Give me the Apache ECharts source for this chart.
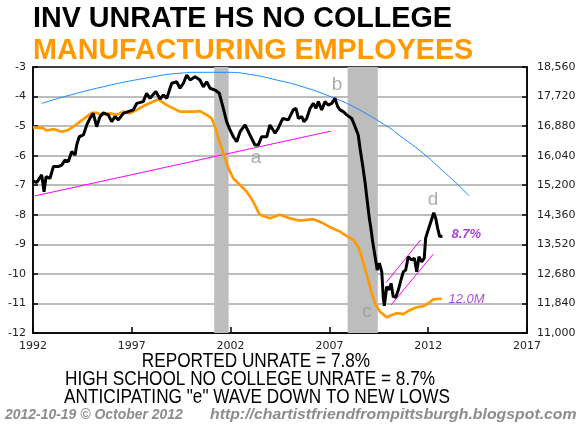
<!DOCTYPE html>
<html>
<head>
<meta charset="utf-8">
<script src="https://cdn.jsdelivr.net/npm/echarts@6/dist/echarts.min.js"></script>
<style>
html,body{margin:0;padding:0;background:#fff;}
#c{width:580px;height:426px;}
</style>
</head>
<body>
<div id="c"></div>
<script>
// ---- DATA ----
// Inverted unemployment rate, high school no college (left axis), [year, value]
const UNRATE_INV = [
[1992.0,-6.85],[1992.19,-6.91],[1992.44,-6.65],[1992.56,-7.22],[1992.66,-6.71],[1992.86,-6.77],
[1993.03,-6.37],[1993.28,-6.37],[1993.45,-6.32],[1993.62,-6.15],[1993.79,-6.2],[1993.96,-5.86],
[1994.13,-5.98],[1994.21,-5.64],[1994.34,-5.36],[1994.55,-5.30],[1994.72,-4.96],[1994.88,-4.74],
[1995.05,-4.57],[1995.22,-5.02],[1995.39,-4.68],[1995.56,-4.55],[1995.81,-4.62],[1995.98,-4.85],
[1996.15,-4.68],[1996.32,-4.79],[1996.57,-4.57],[1996.82,-4.51],[1997.08,-4.45],[1997.25,-4.23],
[1997.58,-4.17],[1997.75,-3.89],[1997.92,-4.06],[1998.22,-3.83],[1998.43,-4.08],[1998.6,-3.95],
[1998.77,-4.06],[1999.02,-3.55],[1999.27,-3.50],[1999.44,-3.72],[1999.61,-3.55],[1999.78,-3.27],
[1999.95,-3.44],[2000.2,-3.33],[2000.45,-3.44],[2000.62,-3.67],[2000.79,-3.50],[2000.96,-3.72],
[2001.21,-3.78],[2001.43,-3.89],[2001.63,-4.40],[2001.8,-4.85],[2001.97,-5.13],[2002.14,-5.36],
[2002.31,-5.53],[2002.48,-5.19],[2002.73,-4.96],[2002.98,-5.30],[2003.23,-5.64],[2003.4,-5.64],
[2003.57,-5.36],[2003.83,-5.36],[2003.99,-4.96],[2004.25,-5.24],[2004.41,-5.07],[2004.64,-4.74],
[2004.92,-4.79],[2005.17,-4.45],[2005.31,-4.40],[2005.43,-4.74],[2005.6,-4.68],[2005.71,-4.85],
[2005.85,-4.74],[2006.02,-4.40],[2006.19,-4.23],[2006.32,-4.40],[2006.44,-4.17],[2006.61,-4.45],
[2006.78,-4.17],[2006.94,-4.29],[2007.12,-4.23],[2007.28,-4.06],[2007.42,-4.34],[2007.54,-4.45],
[2007.7,-4.51],[2007.88,-4.62],[2008.13,-4.74],[2008.3,-5.02],[2008.46,-5.30],[2008.55,-5.75],
[2008.68,-6.32],[2008.8,-6.88],[2008.92,-7.56],[2009.02,-8.12],[2009.1,-8.46],[2009.19,-8.91],
[2009.31,-9.4],[2009.42,-9.87],[2009.53,-9.64],[2009.65,-9.93],[2009.73,-10.83],[2009.78,-11.08],
[2009.9,-10.43],[2010.02,-10.54],[2010.12,-10.32],[2010.23,-10.77],[2010.36,-10.79],[2010.49,-10.54],
[2010.62,-10.21],[2010.74,-9.93],[2010.86,-9.87],[2010.99,-9.42],[2011.16,-9.53],[2011.3,-9.47],
[2011.42,-9.93],[2011.53,-9.42],[2011.67,-9.59],[2011.8,-9.47],[2011.87,-8.79],[2012.0,-8.51],
[2012.14,-8.23],[2012.28,-7.93],[2012.38,-8.12],[2012.48,-8.46],[2012.58,-8.74],[2012.72,-8.72]
];
// Manufacturing employees, thousands (right axis), [year, value]
const MFG_EMP = [
[1992.0,16846],[1992.52,16821],[1992.69,16754],[1993.03,16796],[1993.45,16720],[1993.79,16771],
[1994.04,16863],[1994.38,17006],[1994.72,17149],[1994.97,17258],[1995.22,17258],[1995.48,17199],
[1995.9,17241],[1996.24,17199],[1996.57,17292],[1996.91,17241],[1997.25,17342],[1997.67,17476],
[1998.09,17577],[1998.34,17644],[1998.51,17577],[1998.77,17476],[1999.1,17384],[1999.44,17292],
[2000.11,17292],[2000.45,17308],[2000.79,17199],[2001.04,17098],[2001.21,16863],[2001.38,16536],
[2001.55,16250],[2001.72,15964],[2001.89,15679],[2002.14,15393],[2002.48,15208],[2002.82,15015],
[2003.15,14730],[2003.4,14444],[2003.49,14360],[2003.99,14259],[2004.49,14360],[2005.0,14259],
[2005.5,14192],[2006.19,14234],[2006.69,14116],[2007.03,14007],[2007.54,13881],[2007.88,13755],
[2008.21,13646],[2008.46,13453],[2008.63,13167],[2008.8,12840],[2008.97,12504],[2009.14,12126],
[2009.31,11840],[2009.56,11605],[2009.9,11445],[2010.15,11512],[2010.4,11563],[2010.74,11538],
[2011.08,11655],[2011.42,11731],[2011.75,11764],[2012.0,11840],[2012.26,11958],[2012.68,11974]
];
// Blue arc (left axis)
const ARC = [
[1992.44,-4.23],[1995.22,-3.72],[1998.43,-3.29],[1999.44,-3.21],[2000.11,-3.18],[2001.8,-3.18],
[2003.15,-3.27],[2004.33,-3.44],[2005.51,-3.64],[2007.2,-4.04],[2008.38,-4.40],[2010.07,-5.07],
[2010.4,-5.24],[2011.75,-5.92],[2012.6,-6.43],[2013.44,-6.94],[2014.07,-7.36]
];
// Magenta trend lines (left axis)
const TREND_LONG = [[1992.1,-7.36],[2007.07,-5.17]];
const CHANNEL_UP = [[2009.86,-10.30],[2011.62,-8.85]];
const CHANNEL_LOW = [[2010.12,-11.05],[2012.26,-9.33]];
// Recessions [start, end]
const RECESSIONS = [[2001.17,2001.9],[2007.92,2009.45]];
// Annotations [year, value, text]
const WAVE_LABELS = [[2003.29,-6.08,'a'],[2007.38,-3.59,'b'],[2008.9,-11.29,'c'],[2012.24,-7.49,'d']];
const END_LABELS = [[2013.15,-8.68,'8.7%'],[2013.0,-10.85,'12.0M']];
// Axis ticks
const X_TICKS = [1992,1997,2002,2007,2012,2017];
const LEFT_TICKS = [-12,-11,-10,-9,-8,-7,-6,-5,-4,-3];
const RIGHT_TICKS = [11000,11840,12680,13520,14360,15200,16040,16880,17720,18560];
// Texts
const TITLE1 = 'INV UNRATE HS NO COLLEGE';
const TITLE2 = 'MANUFACTURING EMPLOYEES';
const NOTES = ['REPORTED UNRATE = 7.8%','HIGH SCHOOL NO COLLEGE UNRATE = 8.7%','ANTICIPATING "e" WAVE DOWN TO NEW LOWS'];
const FOOT_LEFT = '2012-10-19 \u00A9 October 2012';
const FOOT_RIGHT = 'http://chartistfriendfrompittsburgh.blogspot.com';

const chart = echarts.init(document.getElementById('c'), null, {renderer:'canvas'});
const fmt = v => String(v).replace(/\B(?=(\d{3})+(?!\d))/g, ',');
const axisFont = {fontFamily:'DejaVu Sans', fontSize:11, color:'#222'};

const option = {
  animation:false,
  backgroundColor:'#fff',
  grid:{left:33,right:53,top:67,bottom:93,show:true,borderColor:'#000',borderWidth:1.5,backgroundColor:'transparent'},
  xAxis:{type:'value',min:1992,max:2017,interval:5,
    axisLine:{show:true,lineStyle:{color:'#000',width:1.5}},
    axisTick:{show:true,inside:true,length:6,lineStyle:{color:'#000',width:1.5}},
    axisLabel:Object.assign({margin:8,customValues:X_TICKS,formatter:v=>String(v)},axisFont),
    splitLine:{show:false}},
  yAxis:[
    {type:'value',min:-12,max:-3,interval:1,position:'left',
      axisLine:{show:true,lineStyle:{color:'#000',width:1.5}},
      axisTick:{show:true,inside:true,length:5,lineStyle:{color:'#000',width:1.5}},
      axisLabel:Object.assign({margin:7,customValues:LEFT_TICKS},axisFont),
      splitLine:{show:true,showMinLine:false,showMaxLine:false,lineStyle:{color:'#a6a6a6',width:1.5}}},
    {type:'value',min:11000,max:18560,position:'right',
      axisLine:{show:true,lineStyle:{color:'#000',width:1.5}},
      axisTick:{show:true,inside:true,length:5,customValues:RIGHT_TICKS,lineStyle:{color:'#000',width:1.5}},
      axisLabel:Object.assign({margin:10,customValues:RIGHT_TICKS,formatter:fmt},axisFont),
      splitLine:{show:false}}
  ],
  series:[
    {type:'line',name:'rec',data:[],yAxisIndex:0,silent:true,z:1,
      markArea:{silent:true,itemStyle:{color:'#bdbdbd'},
        data:RECESSIONS.map(r=>[{xAxis:r[0]},{xAxis:r[1]}])}},
    {type:'line',name:'arc',data:ARC,yAxisIndex:0,smooth:true,showSymbol:false,symbol:'none',z:3,
      lineStyle:{color:'#1a8cff',width:1}},
    {type:'line',name:'trend',data:TREND_LONG,yAxisIndex:0,symbol:'none',z:3,lineStyle:{color:'#ff00ff',width:1}},
    {type:'line',name:'chup',data:CHANNEL_UP,yAxisIndex:0,symbol:'none',z:3,lineStyle:{color:'#ff00ff',width:1}},
    {type:'line',name:'chlow',data:CHANNEL_LOW,yAxisIndex:0,symbol:'none',z:3,lineStyle:{color:'#ff00ff',width:1}},
    {type:'line',name:'mfg',data:MFG_EMP,yAxisIndex:1,symbol:'none',z:4,lineStyle:{color:'#ff9900',width:2.7}},
    {type:'line',name:'unrate',data:UNRATE_INV,yAxisIndex:0,symbol:'none',z:5,lineStyle:{color:'#000',width:3}},
    {type:'scatter',name:'waves',yAxisIndex:0,symbolSize:1,z:6,itemStyle:{color:'rgba(0,0,0,0)'},
      data:WAVE_LABELS.map(d=>({value:[d[0],d[1]],label:{show:true,position:'inside',formatter:d[2],
        fontFamily:'Liberation Sans',fontSize:19,color:'#999'}}))},
    {type:'scatter',name:'ends',yAxisIndex:0,symbolSize:1,z:6,itemStyle:{color:'rgba(0,0,0,0)'},
      data:[
        {value:[END_LABELS[0][0],END_LABELS[0][1]],label:{show:true,position:'right',distance:0,formatter:END_LABELS[0][2],
          fontFamily:'Liberation Sans',fontSize:13,fontWeight:'bold',fontStyle:'italic',color:'#9010cc'}},
        {value:[END_LABELS[1][0],END_LABELS[1][1]],label:{show:true,position:'right',distance:0,formatter:END_LABELS[1][2],
          fontFamily:'Liberation Sans',fontSize:13,fontStyle:'italic',color:'#9a20d0'}}
      ]}
  ],
  graphic:[
    {type:'text',x:33,y:19,scaleX:0.99,style:{text:TITLE1,font:'bold 29px "Liberation Sans"',fill:'#000',textAlign:'left',textVerticalAlign:'middle'}},
    {type:'text',x:33,y:51,scaleX:0.99,style:{text:TITLE2,font:'bold 29px "Liberation Sans"',fill:'#ff9900',textAlign:'left',textVerticalAlign:'middle'}},
    {type:'text',x:256,y:361,scaleX:0.86,style:{text:NOTES[0],font:'20px "Liberation Sans"',fill:'#000',textAlign:'center',textVerticalAlign:'middle'}},
    {type:'text',x:250,y:379,scaleX:0.86,style:{text:NOTES[1],font:'20px "Liberation Sans"',fill:'#000',textAlign:'center',textVerticalAlign:'middle'}},
    {type:'text',x:257,y:397,scaleX:0.86,style:{text:NOTES[2],font:'20px "Liberation Sans"',fill:'#000',textAlign:'center',textVerticalAlign:'middle'}},
    {type:'text',x:5,y:415,scaleX:0.93,style:{text:FOOT_LEFT,font:'italic bold 15px "Liberation Sans"',fill:'#8c8c8c',textAlign:'left',textVerticalAlign:'middle'}},
    {type:'text',x:210,y:415,scaleX:1.055,style:{text:FOOT_RIGHT,font:'italic bold 15px "Liberation Sans"',fill:'#8c8c8c',textAlign:'left',textVerticalAlign:'middle'}}
  ]
};
chart.setOption(option);
</script>
</body>
</html>
